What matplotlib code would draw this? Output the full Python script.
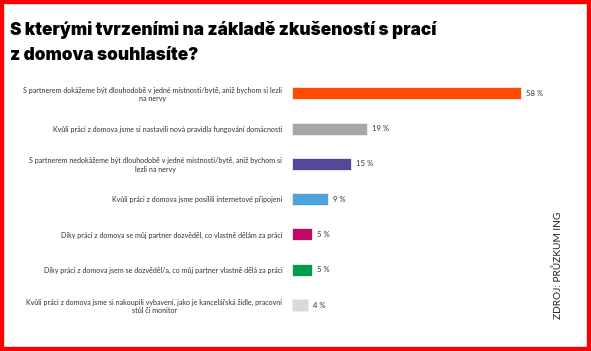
import matplotlib.pyplot as plt
from matplotlib.patches import Rectangle

labels = [
    "S partnerem dokážeme být dlouhodobě v jedné místnosti/bytě, aniž bychom si lezli\nna nervy",
    "Kvůli práci z domova jsme si nastavili nová pravidla fungování domácnosti",
    "S partnerem nedokážeme být dlouhodobě v jedné místnosti/bytě, aniž bychom si\nlezli na nervy",
    "Kvůli práci z domova jsme posílili internetové připojení",
    "Díky práci z domova se můj partner dozvěděl, co vlastně dělám za práci",
    "Díky práci z domova jsem se dozvěděl/a, co můj partner vlastně dělá za práci",
    "Kvůli práci z domova jsme si nakoupili vybavení, jako je kancelářská židle, pracovní\nstůl či monitor",
]
values = [58, 19, 15, 9, 5, 5, 4]
colors = ["#FF4B00", "#A6A6A6", "#55479A", "#4EA3DC", "#BE0A64", "#009B4E", "#D9D9D9"]

W, H = 591, 351
fig = plt.figure(figsize=(W / 100, H / 100), dpi=100)
fig.patch.set_facecolor("white")

# axes: x=0 at px 292, ~3.95 px per percent
ax = fig.add_axes([292 / W, 1 - 322.7 / H, 276.5 / W, 247.1 / H])
y = list(range(len(values)))
ax.barh(y, values, height=0.34, color=colors, edgecolor="#f0f0f0", linewidth=0.6)
ax.set_xlim(0, 70)
ax.set_ylim(6.5, -0.5)
ax.set_yticks(y)
ax.set_yticklabels(labels, fontsize=5.1, family="Lato", color="#333333")
for t in ax.get_yticklabels():
    t.set_multialignment("center")
ax.tick_params(axis="y", length=0, pad=7)
ax.set_xticks([])
for s in ax.spines.values():
    s.set_visible(False)

for yi, v in zip(y, values):
    ax.text(v + 1.3, yi, f"{v} %", va="center", ha="left", fontsize=5.5,
            family="Lato", color="#333333")

title_kw = dict(fontsize=12.4, fontweight=900, family="Inter", color="black",
                ha="left", va="baseline")
fig.text(10 / W, 1 - 35 / H, "S kterými tvrzeními na základě zkušeností s prací", **title_kw)
fig.text(10 / W, 1 - 60 / H, "z domova souhlasíte?", **title_kw)

fig.text(558 / W, 1 - 265 / H, "ZDROJ: PRŮZKUM ING", rotation=90,
         fontsize=7.3, family="Lato", color="#222222", ha="center", va="center")

# red frame
fig.patches.append(Rectangle((0, 0), 1, 1, transform=fig.transFigure,
                             fill=False, edgecolor="#FF0000", linewidth=6))

fig.savefig("out.png", dpi=100)
